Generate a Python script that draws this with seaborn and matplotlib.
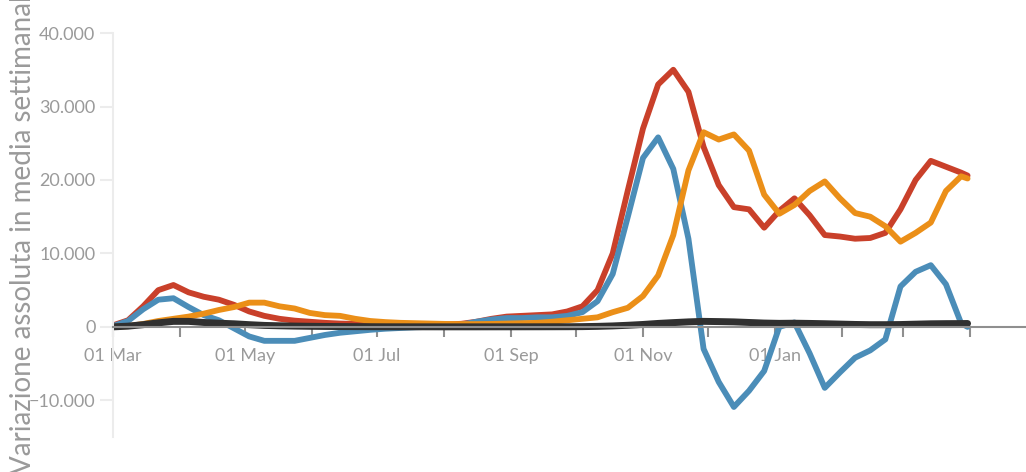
import pandas as pd
import numpy as np
import matplotlib
matplotlib.use("Agg")
import matplotlib.pyplot as plt
from matplotlib.ticker import FuncFormatter
import seaborn as sns

# weekly readings, 1 Mar 2020 -> 31 Mar 2021
dates = list(pd.date_range("2020-03-01", periods=57, freq="7D")) + [pd.Timestamp("2021-03-31")]

nuovi_positivi = [200, 900, 2800, 5000, 5700, 4700, 4100, 3700, 3000, 2100,
                  1500, 1100, 850, 700, 550, 450, 400, 320, 280, 250,
                  250, 280, 320, 420, 700, 1100, 1400, 1500, 1600, 1700,
                  2100, 2800, 5000, 10000, 18600, 27000, 33000, 35000, 32000, 24500,
                  19300, 16300, 16000, 13500, 15800, 17500, 15200, 12500, 12300, 12000,
                  12100, 12800, 16000, 20000, 22600, 21800, 21000, 20600]

attualmente_positivi = [100, 800, 2400, 3700, 3900, 2700, 1600, 900, -200, -1300,
                        -1900, -1900, -1900, -1500, -1100, -800, -600, -400, -250, -150,
                        -50, 0, 100, 300, 700, 1000, 1200, 1200, 1300, 1300,
                        1500, 2000, 3500, 7200, 15000, 23000, 25800, 21500, 12000, -3000,
                        -7500, -10900, -8700, -6000, 0, 600, -3600, -8300, -6200, -4200,
                        -3200, -1700, 5500, 7500, 8400, 5800, 500, 0]

dimessi_guariti = [0, 100, 400, 800, 1100, 1400, 1800, 2300, 2700, 3300,
                   3300, 2800, 2500, 1900, 1600, 1500, 1100, 800, 650, 550,
                   500, 450, 400, 380, 380, 400, 450, 500, 550, 700,
                   900, 1100, 1300, 2000, 2600, 4200, 7000, 12500, 21300, 26500,
                   25500, 26200, 24000, 18000, 15400, 16600, 18500, 19800, 17500, 15500,
                   15000, 13700, 11600, 12800, 14200, 18500, 20500, 20200]

deceduti = [0, 100, 300, 550, 750, 750, 600, 500, 420, 300,
            200, 150, 110, 80, 60, 45, 35, 25, 15, 12,
            10, 8, 6, 6, 6, 8, 10, 12, 14, 18,
            22, 35, 70, 130, 220, 330, 470, 580, 680, 750,
            720, 680, 600, 520, 480, 500, 470, 430, 380, 330,
            300, 300, 320, 370, 420, 440, 450, 460]

series_names = ["nuovi_positivi", "attualmente_positivi", "dimessi_guariti", "deceduti"]
colors = ["#c9402a", "#4b8db8", "#eb8f18", "#303030"]

df = pd.DataFrame({
    "data": dates * 4,
    "valore": nuovi_positivi + attualmente_positivi + dimessi_guariti + deceduti,
    "serie": np.repeat(series_names, len(dates)),
})

tick_dates = pd.date_range("2020-03-01", "2021-04-01", freq="MS")
tick_labels = ["01 Mar", "", "01 May", "", "01 Jul", "", "01 Sep", "",
               "01 Nov", "", "01 Jan", "", "", ""]

sns.set_style("white")
plt.rcParams["font.family"] = ["Lato", "DejaVu Sans"]

fig = plt.figure(figsize=(10.26, 4.72), dpi=100)
ax = fig.add_axes([0.110, 0.074, 0.890, 0.856])

sns.lineplot(data=df, x="data", y="valore", hue="serie", hue_order=series_names,
             palette=colors, linewidth=4.2, legend=False, ax=ax)
# black line a bit thicker
ax.lines[-1].set_linewidth(5)

ax.set_xlim(pd.Timestamp("2020-03-01"), pd.Timestamp("2021-04-27"))
ax.set_ylim(-15000, 40000)

ax.set_xticks(tick_dates)
ax.set_xticklabels(tick_labels)
ax.set_yticks([40000, 30000, 20000, 10000, 0, -10000])
ax.yaxis.set_major_formatter(FuncFormatter(
    lambda v, p: f"{int(v):,}".replace(",", ".").replace("-", "\u2212")))

for s in ["top", "right"]:
    ax.spines[s].set_visible(False)
ax.spines["left"].set_color("#ececec")
ax.spines["left"].set_linewidth(1.5)
ax.spines["bottom"].set_position(("data", 0))
ax.spines["bottom"].set_color("#8f8f8f")
ax.spines["bottom"].set_linewidth(1.5)

ax.tick_params(axis="x", direction="out", length=7, width=1.5, color="#8f8f8f",
               labelcolor="#9a9a9a", labelsize=13, pad=8, bottom=True)
ax.tick_params(axis="y", direction="out", length=9.5, width=1.5, color="#ececec",
               labelcolor="#9a9a9a", labelsize=13, pad=3, left=True)

ax.set_xlabel("")
ax.set_ylabel("")
fig.text(0.022, -0.005, "Variazione assoluta in media settimanale", rotation=90,
         va="bottom", ha="center", fontsize=20, color="#9a9a9a")

fig.savefig("out.png", dpi=100)
